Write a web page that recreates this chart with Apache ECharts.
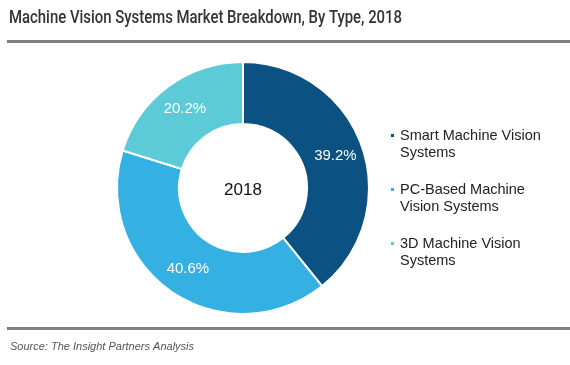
<!DOCTYPE html>
<html>
<head>
<meta charset="utf-8">
<script src="https://cdn.jsdelivr.net/npm/echarts@6/dist/echarts.min.js"></script>
<style>html,body{margin:0;padding:0;background:#fff;}#c{width:570px;height:365px;}</style>
</head>
<body>
<div id="c"></div>
<script>
const titleText = 'Machine Vision Systems Market Breakdown, By Type, 2018';
const sourceText = 'Source: The Insight Partners Analysis';
const centerLabel = '2018';
const categories = ['Smart Machine Vision Systems', 'PC-Based Machine Vision Systems', '3D Machine Vision Systems'];
const legendLines = ['Smart Machine Vision\nSystems', 'PC-Based Machine\nVision Systems', '3D Machine Vision\nSystems'];
const shares = [39.2, 40.6, 20.2];
const colors = ['#0b5282', '#34b0e3', '#5ccad7'];

const titleFont = '500 18px Roboto, "Liberation Sans", sans-serif';
const mctx = document.createElement('canvas').getContext('2d');
mctx.font = titleFont;
const titleScale = 393 / mctx.measureText(titleText).width;

const chart = echarts.init(document.getElementById('c'), null, {renderer: 'canvas'});
const iconPath = 'path://M0,0L0,0M0,6L5,6L5,11L0,11ZM0,34L0,34';
chart.setOption({
  animation: false,
  legend: {
    orient: 'vertical', left: 384, top: 121, itemGap: 18,
    icon: iconPath, itemWidth: 5, itemHeight: 34,
    data: categories,
    formatter: function (n) { return legendLines[categories.indexOf(n)]; },
    textStyle: {fontFamily: '"Liberation Sans", sans-serif', fontSize: 14.5, lineHeight: 17, color: '#222'}
  },
  graphic: [
    {type: 'text', x: 9, y: 9, scaleX: titleScale, style: {text: titleText, font: titleFont, fill: '#333'}},
    {type: 'rect', shape: {x: 7, y: 40, width: 563, height: 3}, style: {fill: '#7f7f7f'}},
    {type: 'rect', shape: {x: 7, y: 327, width: 563, height: 3}, style: {fill: '#7f7f7f'}},
    {type: 'text', x: 10, y: 341, style: {text: sourceText, font: 'italic 11px "Liberation Sans", sans-serif', fill: '#555'}},
    {type: 'text', x: 243, y: 190, style: {text: centerLabel, font: '17px "Liberation Sans", sans-serif', fill: '#111', textAlign: 'center', textVerticalAlign: 'middle'}}
  ],
  series: [{
    type: 'pie',
    center: [243, 188], radius: [64, 126],
    startAngle: 90, clockwise: true,
    label: {show: true, position: 'inside', formatter: '{c}%', color: '#fff', fontSize: 15, fontFamily: '"Liberation Sans", sans-serif'},
    labelLine: {show: false},
    itemStyle: {borderColor: '#fff', borderWidth: 2},
    emphasis: {disabled: true},
    data: categories.map((c, i) => ({name: c, value: shares[i], itemStyle: {color: colors[i]}}))
  }]
});
</script>
</body>
</html>
